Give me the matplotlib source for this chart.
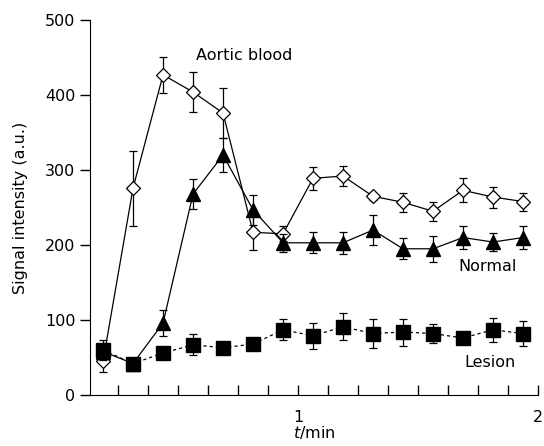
import numpy as np
import matplotlib.pyplot as plt

# time points (min)
t = [0.1875, 0.3125, 0.4375, 0.5625, 0.6875, 0.8125, 0.9375, 1.0625,
     1.1875, 1.3125, 1.4375, 1.5625, 1.6875, 1.8125, 1.9375]

aortic = [45, 276, 427, 404, 376, 217, 215, 289, 292, 265, 257, 245, 273, 264, 258]
aortic_err = [14, 50, 24, 27, 33, 24, 10, 15, 13, 5, 13, 13, 16, 14, 12]

normal = [58, 42, 96, 268, 320, 247, 203, 203, 203, 220, 195, 195, 210, 204, 210]
normal_err = [10, 5, 17, 20, 23, 20, 12, 14, 15, 20, 14, 17, 15, 12, 15]

lesion = [60, 42, 56, 67, 63, 68, 87, 79, 91, 82, 84, 82, 76, 87, 82]
lesion_err = [13, 5, 6, 14, 5, 5, 14, 17, 18, 19, 18, 13, 5, 16, 17]

fig = plt.figure(figsize=(5.44, 4.46), dpi=100)
ax = fig.add_axes([0.1654, 0.1143, 0.8236, 0.8407])

ax.errorbar(t, aortic, yerr=aortic_err, color='black', lw=0.9, marker='D',
            ms=7, mfc='white', mec='black', mew=0.9, ecolor='black',
            elinewidth=0.9, capsize=3, capthick=0.9, zorder=2)
ax.errorbar(t, lesion, yerr=lesion_err, color='black', lw=0.9, ls=(0, (2.5, 2.5)),
            marker='s', ms=9.5, mfc='black', mec='black', ecolor='black',
            elinewidth=0.9, capsize=3, capthick=0.9, zorder=3)
ax.errorbar(t, normal, yerr=normal_err, color='black', lw=0.9, marker='^',
            ms=10, mfc='black', mec='black', ecolor='black',
            elinewidth=0.9, capsize=3, capthick=0.9, zorder=4)

ax.text(0.775, 453, 'Aortic blood', ha='center', va='center', fontsize=11.5)
ax.text(1.79, 171, 'Normal', ha='center', va='center', fontsize=11.5)
ax.text(1.80, 43, 'Lesion', ha='center', va='center', fontsize=11.5)

ax.set_xlim(0.133, 2.0)
ax.set_ylim(0, 500)
ax.set_yticks([0, 100, 200, 300, 400, 500])
ax.set_xticks([1, 2])
ax.set_xticks(np.arange(0.25, 2.0, 0.125), minor=True)
ax.tick_params(axis='y', direction='out', length=7, width=1, labelsize=11.5)
ax.tick_params(axis='x', which='both', direction='in', length=7, width=1,
               labelsize=11.5, pad=11)
ax.spines['top'].set_visible(False)
ax.spines['right'].set_visible(False)
ax.set_ylabel('Signal intensity (a.u.)', fontsize=11.5, labelpad=12)
ax.set_xlabel('$t$/min', fontsize=11.5, labelpad=-1)

fig.savefig('out.png', dpi=100)
